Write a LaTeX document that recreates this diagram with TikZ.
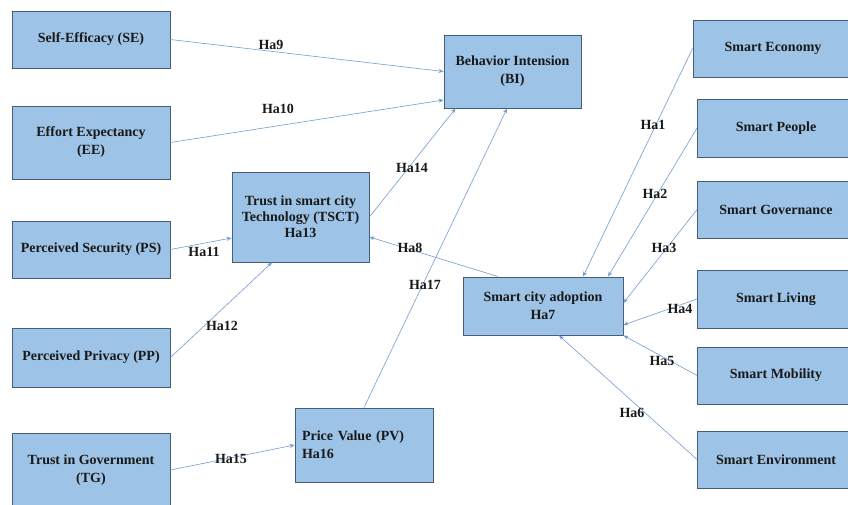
\documentclass[tikz,border=0pt]{standalone}
\usepackage{fontspec}
\setmainfont{Liberation Serif}
\usetikzlibrary{arrows.meta}
\definecolor{boxfill}{RGB}{157,195,230}
\definecolor{boxline}{RGB}{72,94,118}
\definecolor{arrowblue}{RGB}{112,157,207}
\tikzset{
  factor/.style={draw=boxline, fill=boxfill, line width=0.9pt, align=center, inner sep=2pt},
  hyp/.style={->, draw=arrowblue, line width=0.6pt},
  hlabel/.style={inner sep=1pt},
}
\begin{document}
\begin{tikzpicture}[x=1pt, y=-1pt, >={Stealth[length=5pt,width=4pt]}, font=\fontsize{14}{18}\selectfont\bfseries, text=black!90]
	\useasboundingbox (0,0) rectangle (848,504);
	% left column
	\node[factor, minimum width=158pt, minimum height=57pt] (se) at (91,39.5) {Self-Efficacy (SE)};
	\node[factor, minimum width=158pt, minimum height=73pt] (ee) at (91,142.5) {Effort Expectancy\\(EE)};
	\node[factor, minimum width=158pt, minimum height=57pt] (ps) at (91,249.5) {Perceived Security (PS)};
	\node[factor, minimum width=158pt, minimum height=59pt] (pp) at (91,357.5) {Perceived Privacy (PP)};
	\node[factor, minimum width=158pt, minimum height=74pt] (tg) at (91,470) {Trust in Government\\(TG)};
	% middle
	\node[factor, minimum width=137pt, minimum height=90pt, font=\fontsize{14}{16}\selectfont\bfseries] (tsct) at (300.5,217) {Trust in smart city\\Technology (TSCT)\\Ha13};
	\node[factor, minimum width=137pt, minimum height=73pt] (bi) at (512.5,71.5) {Behavior Intension\\(BI)};
	\node[factor, minimum width=138pt, minimum height=74pt, align=left, text width=124pt, inner xsep=7pt] (pv) at (364,445) {Price Value (PV)\\Ha16};
	\node[factor, minimum width=160pt, minimum height=58pt] (sca) at (543,306) {Smart city adoption\\Ha7};
	% right column
	\node[factor, minimum width=160pt, minimum height=57pt] (econ) at (773,48.5) {Smart Economy};
	\node[factor, minimum width=157pt, minimum height=58pt] (people) at (776,128) {Smart People};
	\node[factor, minimum width=157pt, minimum height=57pt] (gov) at (776,209.5) {Smart Governance};
	\node[factor, minimum width=157pt, minimum height=58pt] (living) at (776,299) {Smart Living};
	\node[factor, minimum width=157pt, minimum height=57pt] (mobility) at (776,375.5) {Smart Mobility};
	\node[factor, minimum width=157pt, minimum height=57pt] (env) at (776,459.5) {Smart Environment};
	% hypotheses
	\draw[hyp] (se.east) -- (bi.west);
	\draw[hyp] (ee.east) -- ([yshift=-28.5pt]bi.west);
	\draw[hyp] (tsct.east) -- ([xshift=12pt]bi.south west);
	\draw[hyp] (pv.north) -- ([xshift=-5.5pt]bi.south);
	\draw[hyp] (ps.east) -- ([yshift=-21pt]tsct.west);
	\draw[hyp] (pp.east) -- ([xshift=-28.5pt]tsct.south);
	\draw[hyp] (tg.east) -- (pv.west);
	\draw[hyp] ([xshift=-45pt]sca.north) -- ([yshift=-20pt]tsct.east);
	\draw[hyp] (econ.west) -- ([xshift=40pt]sca.north);
	\draw[hyp] (people.west) -- ([xshift=65pt]sca.north);
	\draw[hyp] (gov.west) -- ([yshift=3pt]sca.east);
	\draw[hyp] (living.west) -- ([yshift=-19pt]sca.east);
	\draw[hyp] (mobility.west) -- (sca.south east);
	\draw[hyp] (env.west) -- ([xshift=16pt]sca.south);
	% labels
	\node[hlabel] (h1) at (653,125) {Ha1};
	\node[hlabel] (h2) at (655,194) {Ha2};
	\node[hlabel] (h3) at (664,248) {Ha3};
	\node[hlabel] (h4) at (680,309) {Ha4};
	\node[hlabel] (h5) at (662,361) {Ha5};
	\node[hlabel] (h6) at (632,413) {Ha6};
	\node[hlabel] (h8) at (410,248) {Ha8};
	\node[hlabel] (h9) at (271,45) {Ha9};
	\node[hlabel] (h10) at (278,109) {Ha10};
	\node[hlabel] (h11) at (204,252) {Ha11};
	\node[hlabel] (h12) at (222,326) {Ha12};
	\node[hlabel] (h14) at (412,168) {Ha14};
	\node[hlabel] (h15) at (231,459) {Ha15};
	\node[hlabel] (h17) at (425,285) {Ha17};
\end{tikzpicture}
\end{document}
